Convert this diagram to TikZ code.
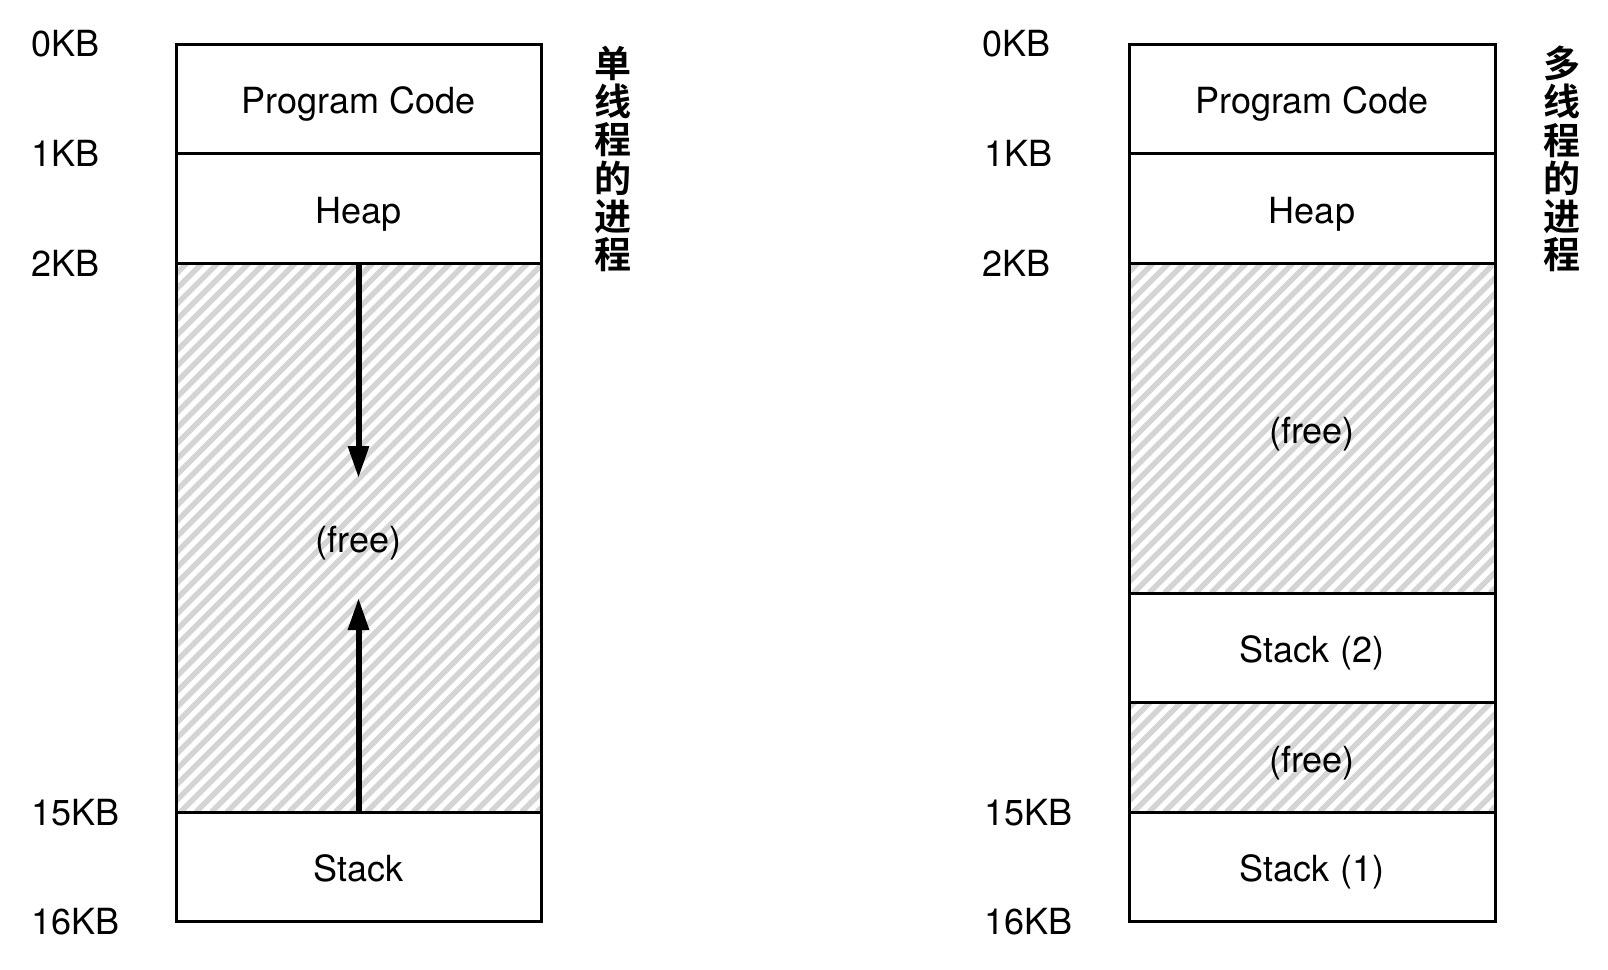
\documentclass[tikz,border=0pt]{standalone}
\usepackage{fontspec}
\setmainfont{TeX Gyre Heros}
\newfontfamily\cjk{Noto Sans CJK SC Bold}
\usetikzlibrary{arrows.meta}
\definecolor{hatchgray}{RGB}{212,212,212}
\newcommand\hatcharea[4]{%
  \begin{scope}
    \clip (#1,#2) rectangle (#3,#4);
    \foreach \k in {0,...,80} \draw[hatchline] ({#1-600+15.5*\k},#4) -- ++(700,-700);
  \end{scope}}
\begin{document}
\begin{tikzpicture}[x=0.5pt,y=-0.5pt,
  seg/.style={draw=black, line width=1.5pt},
  lbl/.style={anchor=base west, font=\fontsize{18}{20}\selectfont, inner sep=0pt},
  txt/.style={anchor=base, font=\fontsize{18}{20}\selectfont, inner sep=0pt},
  hatchline/.style={draw=hatchgray, line width=2.7pt},
  growarrow/.style={line width=3pt, -{Triangle[length=16pt,width=10pt]}},
  side/.style={font=\cjk\fontsize{18.5}{19.1}\selectfont, align=center, inner sep=0pt}]
\useasboundingbox (0,0) rectangle (1608,970);

% ---------- left: single-threaded ----------
\hatcharea{176}{263}{541}{812}
\draw[seg] (176,44) rectangle (541,921);
\draw[seg] (176,153.5) -- (541,153.5);
\draw[seg] (176,263) -- (541,263);
\draw[seg] (176,812) -- (541,812);

\node[txt] (pc1) at (358.5,113) {Program Code};
\node[txt] (heap1) at (358.5,223) {Heap};
\node[txt] (free1) at (358.5,552) {(free)};
\node[txt] (stack1) at (358.5,881) {Stack};

\coordinate (dtop) at (358.5,263);
\coordinate (dtip) at (358.5,478);
\coordinate (utop) at (358.5,812);
\coordinate (utip) at (358.5,598);
\draw[growarrow] (dtop) -- (dtip);
\draw[growarrow] (utop) -- (utip);

\node[lbl] (l0) at (31,56.5) {0KB};
\node[lbl] (l1) at (31,166.5) {1KB};
\node[lbl] (l2) at (31,276.5) {2KB};
\node[lbl] (l15) at (31,825.5) {15KB};
\node[lbl] (l16) at (31,934) {16KB};

\node[side] (t1) at (613,159) {单\\线\\程\\的\\进\\程};

% ---------- right: multi-threaded ----------
\hatcharea{1129}{263}{1495}{593}
\hatcharea{1129}{702.5}{1495}{812}
\draw[seg] (1129,44) rectangle (1495,921);
\draw[seg] (1129,153.5) -- (1495,153.5);
\draw[seg] (1129,263) -- (1495,263);
\draw[seg] (1129,593) -- (1495,593);
\draw[seg] (1129,702.5) -- (1495,702.5);
\draw[seg] (1129,812) -- (1495,812);

\node[txt] (pc2) at (1312,113) {Program Code};
\node[txt] (heap2) at (1312,223) {Heap};
\node[txt] (free2) at (1312,443) {(free)};
\node[txt] (st2) at (1312,662) {Stack (2)};
\node[txt] (free3) at (1312,772) {(free)};
\node[txt] (st1) at (1312,881) {Stack (1)};

\node[lbl] (r0) at (982,56.5) {0KB};
\node[lbl] (r1) at (984,166.5) {1KB};
\node[lbl] (r2) at (982,276.5) {2KB};
\node[lbl] (r15) at (984,825.5) {15KB};
\node[lbl] (r16) at (984,934) {16KB};

\node[side] (t2) at (1562,159) {多\\线\\程\\的\\进\\程};
\end{tikzpicture}
\end{document}
